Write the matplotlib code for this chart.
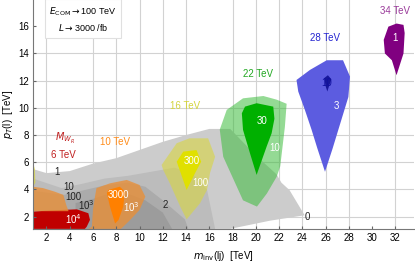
import numpy as np
import matplotlib.pyplot as plt
from matplotlib.patches import Polygon

plt.rcParams['font.family'] = ['Liberation Sans', 'DejaVu Sans']

# background contours (grey), outer to inner
bg_1 = [(0.84,5.5),(2,5.2),(4,5.35),(6,5.9),(8,6.3),(10,6.9),(12,7.5),(14,8.0),(16,8.45),
        (17.8,8.45),(20,6.5),(21.8,5.1),(22.2,4.5),(22.9,3.95),(24.2,2.1),(21.2,1.7),
        (17.8,1.1),(0.84,1.1)]
bg_10 = [(0.84,4.8),(3.3,4.1),(5,4.4),(7,4.8),(9,5.0),(11,5.3),(13,5.6),(14.5,5.2),
         (15.8,4.0),(16.5,1.1),(0.84,1.1)]
bg_100 = [(0.84,3.9),(3.5,3.6),(5,3.9),(7,4.3),(9,4.5),(10.5,4.2),(12,3.2),(13.9,1.8),
          (14.2,1.1),(0.84,1.1)]
bg_1000 = [(4.5,3.0),(6,3.3),(7,3.6),(9,3.7),(10.5,3.2),(12,2.3),(12.8,1.1),(4.5,1.1)]

# signal regions
sig6 = [(0.84,2.37),(2.0,2.44),(4.6,2.54),(5.6,2.25),(5.74,1.76),(5.46,1.26),(5.3,1.1),(0.84,1.1)]
sig10_out_a = [(0.84,4.2),(1.7,4.1),(2.7,3.84),(3.45,3.6),(3.7,2.86),(3.9,2.4),(0.84,2.4)]
sig10_out_b = [(6.3,4.1),(7.46,4.45),(8.9,4.7),(10.0,4.33),(10.5,3.47),(10.0,2.49),(9.2,1.76),
               (8.6,1.26),(8.4,1.1),(5.6,1.1),(5.9,1.26),(6.0,2.5),(6.17,3.47)]
sig10_in = [(7.3,3.96),(8.3,4.2),(8.75,3.84),(8.6,2.74),(8.2,1.76),(7.9,1.5),(7.46,2.74),(7.2,3.7)]
sig16_out = [(11.9,5.8),(13.2,7.4),(14.3,7.76),(15.9,7.76),(16.5,6.4),(16.06,5.2),(15.8,3.96),
             (15.2,2.98),(14.05,1.8),(13.5,2.74),(12.6,4.46),(12.04,5.43)]
sig16_edge = [(0.84,6.0),(1.0,5.5),(1.05,4.5),(0.84,4.2)]
sig16_in = [(13.2,6.04),(13.76,6.78),(14.9,6.9),(15.3,6.04),(14.77,5.19),(14.05,3.96),(13.6,5.07)]
sig22_out = [(17.5,9.85),(16.9,8.4),(17.2,6.4),(18.9,3.2),(20.1,2.74),(20.95,3.7),(21.8,4.94),
             (22.1,5.7),(22.5,8.6),(22.65,10.3),(21.8,10.6),(20.65,10.87),(18.9,10.7)]
sig22_in = [(19.07,10.09),(20.07,10.34),(21.5,10.09),(21.6,9.2),(21.36,8.13),(20.93,7.15),
            (20.07,5.07),(19.5,6.66),(18.9,8.38),(18.8,9.6)]
sig28_out = [(23.5,12.05),(24.66,12.79),(26.1,13.5),(27.5,13.5),(28.1,12.3),(27.96,10.8),
             (27.1,8.4),(26.6,7.0),(25.95,5.3),(25.3,7.0),(24.8,8.38),(24.2,9.9),(23.65,11.2)]
sig28_in = [(25.9,12.2),(26.2,12.4),(26.5,12.1),(26.3,11.6),(26.15,11.2),(26.0,11.6)]
sig34 = [(31.4,15.97),(32.1,16.2),(32.7,16.1),(32.8,15.5),(32.7,14.0),(32.1,12.4),
         (31.7,13.5),(31.1,14.0),(31.0,15.0)]

# contour labels: (x, y, text, colour)
contour_labels = [(2.9,5.25,'1','#222222'), (3.9,4.15,'10','#222222'), (4.3,3.47,'100','#222222'),
                  (5.45,2.86,'10$^3$','#222222'), (12.2,2.86,'2','#222222'), (24.45,2.0,'0','#222222'),
                  (4.3,1.83,'10$^4$','white'), (8.2,3.6,'3000','white'), (9.3,2.73,'10$^3$','white'),
                  (14.5,6.1,'300','white'), (15.2,4.5,'100','white'), (20.5,9.06,'30','white'),
                  (21.6,7.07,'10','white'), (26.1,11.8,'10','#1010a0'), (26.9,10.1,'3','white'),
                  (32.0,15.1,'1','white')]
mass_labels = [(3.45,6.5,'6 TeV','#c02020'), (7.9,7.5,'10 TeV','#ff8c1a'),
               (13.9,10.1,'16 TeV','#d4d43c'), (20.2,12.5,'22 TeV','#22a822'),
               (25.95,15.1,'28 TeV','#2424d0'), (32.0,17.15,'34 TeV','#9a3a9a')]

fig = plt.figure(figsize=(4.15, 2.64), dpi=100)
ax = fig.add_axes([0.0795, 0.133, 0.918, 0.867])

grid_x = [2, 6, 8, 10, 12, 14, 18, 20, 22, 24, 26, 28, 32]
grid_y = [2, 4, 6, 8, 10, 12, 14]
for gx in grid_x:
    ax.axvline(gx, color='#d2d2d2', lw=0.8, zorder=0)
for gy in grid_y:
    ax.axhline(gy, color='#d2d2d2', lw=0.8, zorder=0)

layers = [(bg_1, '#cccccc', 1.0), (bg_10, '#bcbcbc', 1.0), (bg_100, '#ababab', 1.0),
          (bg_1000, '#9c9c9c', 1.0),
          (sig6, '#c00000', 1.0),
          (sig10_out_a, '#e8903a', 0.8), (sig10_out_b, '#e8903a', 0.8), (sig10_in, '#ff8000', 1.0),
          (sig16_out, '#d8d640', 0.6), (sig16_edge, '#d8d640', 0.7), (sig16_in, '#e0e000', 1.0),
          (sig22_out, '#3cbc3c', 0.55), (sig22_in, '#00b000', 1.0),
          (sig28_out, '#5c5ce0', 1.0), (sig28_in, '#18189a', 1.0),
          (sig34, '#800080', 1.0)]
for i, (pts, col, a) in enumerate(layers):
    ax.add_patch(Polygon(pts, closed=True, facecolor=col, edgecolor='none', alpha=a, zorder=1 + i * 0.01))

for x, y, s, c in contour_labels:
    ax.text(x, y, s, color=c, fontsize=7, ha='center', va='center', zorder=5)
for x, y, s, c in mass_labels:
    ax.text(x, y, s, color=c, fontsize=7, ha='center', va='center', zorder=5)
ax.text(3.6, 7.75, '$M_{W_R}$', color='#c02020', fontsize=7, ha='center', va='center', zorder=5)

ax.text(0.131, 0.915, '$E_{\\rm COM}\\rightarrow$100 TeV\n$L\\rightarrow$3000 /fb', transform=ax.transAxes,
        fontsize=6.5, ha='center', va='center', linespacing=1.5, zorder=6,
        bbox=dict(boxstyle='square,pad=0.5', facecolor='white', edgecolor='#e0e0e0', lw=0.8))

ax.set_xlim(0.84, 33.6)
ax.set_ylim(1.1, 17.93)
ax.set_xticks(np.arange(2, 33, 2))
ax.set_yticks(np.arange(2, 17, 2))
ax.tick_params(labelsize=7, length=2, direction='in', color='#666666', pad=3)
for side in ['top', 'right']:
    ax.spines[side].set_visible(False)
for side in ['left', 'bottom']:
    ax.spines[side].set_color('#777777')
ax.set_xlabel('$m_{\\rm inv}$(lj)  [TeV]', fontsize=7, labelpad=4)
ax.set_ylabel('$p_T$(l)  [TeV]', fontsize=7)
ax.yaxis.set_label_coords(-0.046, 0.5)

fig.savefig('out.png', dpi=100)
